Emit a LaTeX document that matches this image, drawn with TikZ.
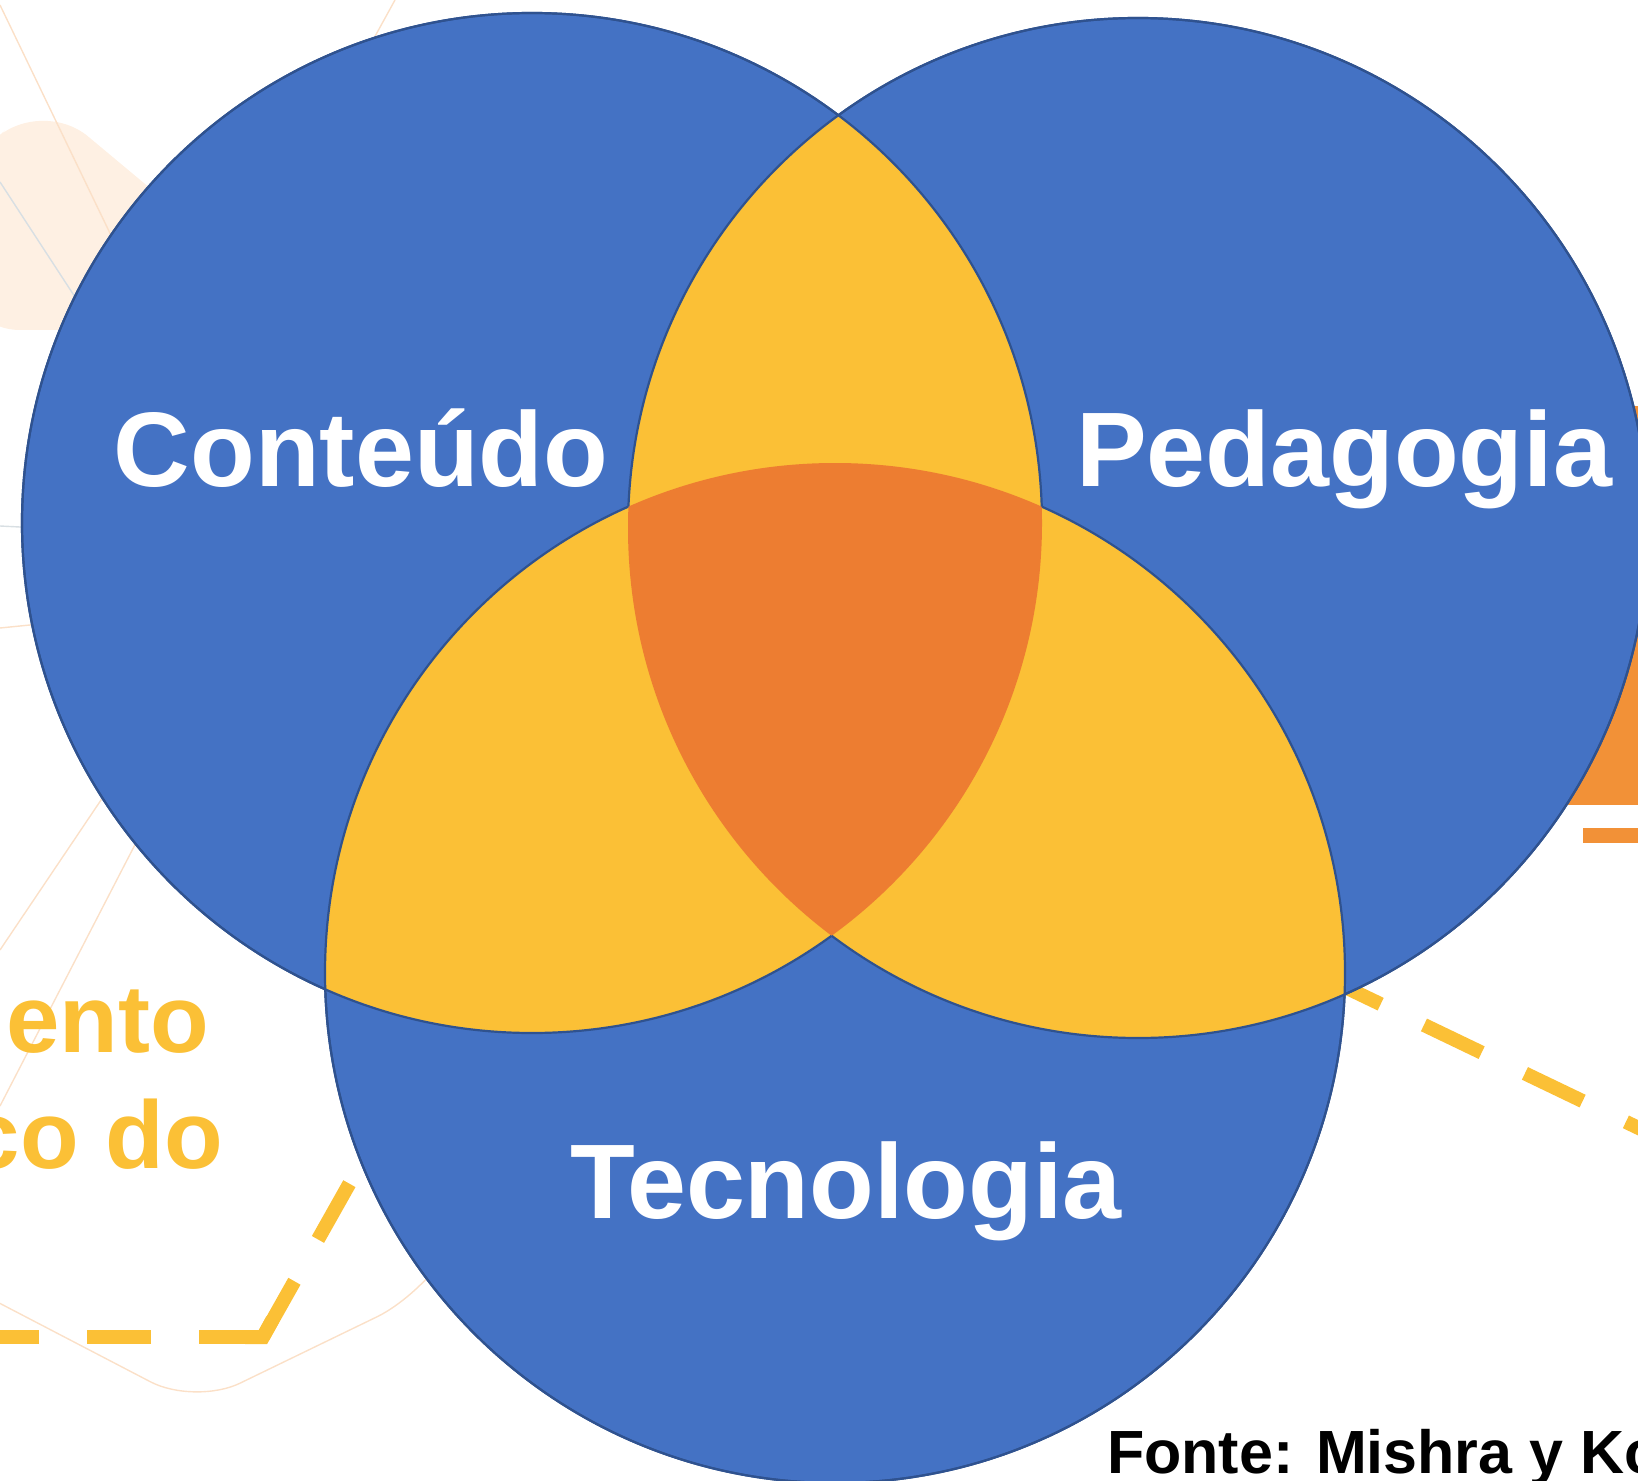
\documentclass[tikz,border=0pt]{standalone}
\usepackage{fontspec}
\setmainfont{Liberation Sans}
\usetikzlibrary{positioning}
\definecolor{vennblue}{RGB}{68,114,196}
\definecolor{vennedge}{RGB}{47,82,143}
\definecolor{vennyellow}{RGB}{251,192,54}
\definecolor{vennorange}{RGB}{237,125,49}
\definecolor{sideorange}{RGB}{242,145,55}
\definecolor{faintpeach}{RGB}{254,240,227}
\definecolor{faintline}{RGB}{251,224,200}
\definecolor{faintgrey}{RGB}{216,223,227}

\begin{document}
\begin{tikzpicture}[x=0.5pt, y=-0.5pt,
        venn/.style={fill=vennblue},
        rim/.style={draw=vennedge, line width=1.1pt},
        circlename/.style={text=white, anchor=base, font=\bfseries\fontsize{53pt}{60pt}\selectfont},
        trail/.style={draw=vennyellow, line width=7pt, dash pattern=on 32pt off 24pt},
        ghost/.style={draw=faintline, line width=0.7pt}]
    \useasboundingbox (0,0) rectangle (1638,1481);

    % faint slide background
    \fill[faintpeach, rounded corners=30] (-40,170) -- (42,98) -- (320,330) -- (-40,330) -- cycle;
    \draw[ghost] (0,5) -- (200,420);
    \draw[ghost] (395,0) -- (340,100);
    \draw[ghost, draw=faintgrey] (0,182) -- (150,412);
    \draw[ghost, draw=faintgrey] (0,526) -- (40,528);
    \draw[ghost] (0,628) -- (40,624);
    \draw[ghost] (0,950) -- (130,757);
    \draw[ghost] (0,1106) -- (140,835);
    \draw[ghost, rounded corners=25] (-20,1293) -- (195,1405) -- (422,1295) -- (475,1205);

    % side shapes of the slide
    \fill[sideorange] (1480,406) rectangle (1700,805);
    \fill[sideorange] (1583,828) rectangle (1700,843);

    % dashed trails
    \coordinate (bend) at (263,1337);
    \draw[trail] (bend) -- (-20,1337);
    \draw[trail] (bend) -- (463,982);
    \draw[vennyellow, line width=7pt] (245,1337) -- (bend) -- (272.5,1319.6);
    \draw[trail] (1222,928) -- (1722,1168);

    \node[anchor=base east, text=vennyellow, font=\bfseries\fontsize{48pt}{54pt}\selectfont] (ento) at (216,1052) {ento};
    \node[anchor=base east, text=vennyellow, font=\bfseries\fontsize{48pt}{54pt}\selectfont] (codo) at (230,1168) {co do};

    % the three circles
    \coordinate (c1) at (532,523);
    \coordinate (c2) at (1138,528);
    \coordinate (c3) at (835,973);
    \foreach \i in {1,2,3}
        \fill[venn] (c\i) circle (510);
    \foreach \i/\j in {1/2,1/3,2/3} {
        \begin{scope}
            \clip (c\i) circle (510);
            \fill[vennyellow] (c\j) circle (510);
        \end{scope}
    }
    \begin{scope}
        \clip (c1) circle (510);
        \clip (c2) circle (510);
        \fill[vennorange] (c3) circle (510);
    \end{scope}
    \foreach \i/\j in {1/2,1/3,2/1,2/3,3/1,3/2} {
        \begin{scope}[even odd rule]
            \clip (-100,-100) rectangle (1800,1600) (c\j) circle (510);
            \draw[rim] (c\i) circle (510);
        \end{scope}
    }

    \node[circlename] (content) at (361,487) {Conteúdo};
    \node[circlename] (pedagogy) at (1344,487) {Pedagogia};
    \node[circlename] (technology) at (846,1218) {Tecnologia};
    \node[anchor=base west, font=\bfseries\fontsize{30.5pt}{36pt}\selectfont] (source) at (1100,1473) {Fonte: Mishra y Ko};
\end{tikzpicture}
\end{document}
